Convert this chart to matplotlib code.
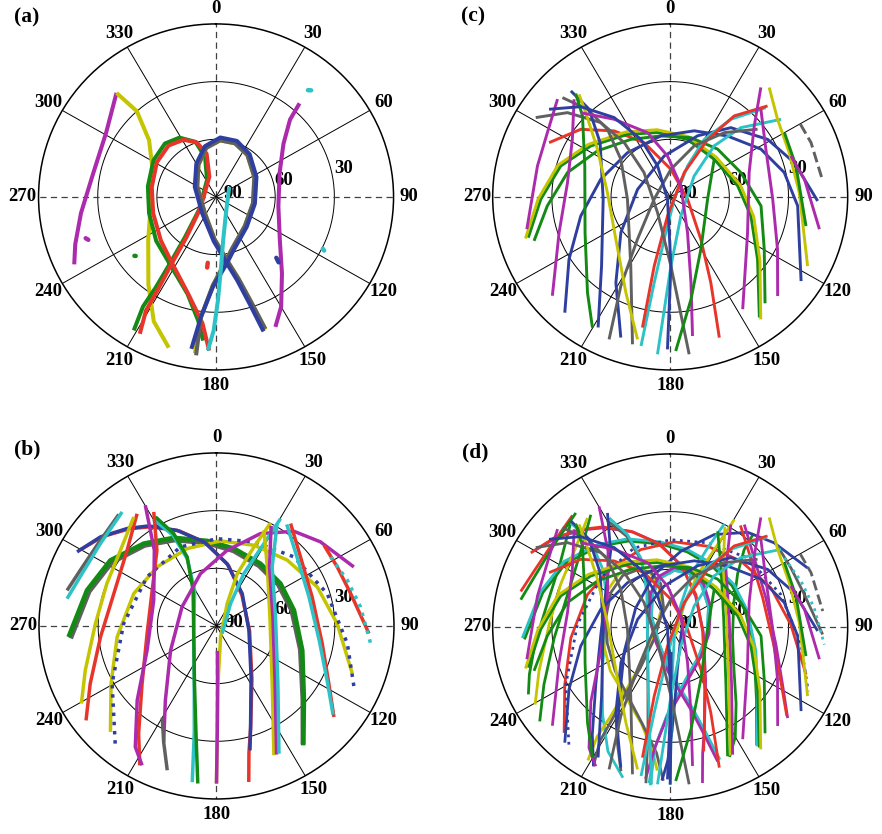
import numpy as np
import matplotlib
matplotlib.use('Agg')
import matplotlib.pyplot as plt

BL = '#2f3f9f'; RD = '#e8352a'; GR = '#138a13'; MG = '#ac2aac'
YL = '#c4c400'; CY = '#2cc2c6'; GY = '#606060'

az_ticks = list(range(0, 360, 30))
el_labels = ['30', '60', '90']
panel_names = ['(a)', '(b)', '(c)', '(d)']

# ---------------- panel (a) tracks: (azimuth deg, elevation deg) ----------------
a_mag_l = ([317, 301, 281, 263, 251, 244], [16, 25, 26.5, 21, 14.5, 10])
a_yel = ([317, 318, 311, 296, 267, 237, 217, 206, 197], [16, 30, 45, 54, 57, 49, 33, 18, 8])
a_grn = ([211, 213, 213, 214, 217, 232, 333, 345, 340, 329, 317, 301, 279, 256, 233, 214, 196, 188, 185],
         [9, 22, 34, 48, 64, 79, 80, 68.5, 59.5, 54, 52, 53, 55, 55, 52, 48, 37.5, 25, 15])
a_red = ([208.5, 211, 211.5, 213, 215.5, 233, 342, 348, 341, 331, 318, 301, 279, 255, 231, 213, 196, 186, 182.5],
         [9, 21, 34, 49, 64, 80, 79, 67, 60, 56, 54, 55, 57, 57, 54, 49, 38, 24, 10])
a_yel2 = ([160, 162, 165, 170, 182, 215, 300, 332, 349, 4, 19, 36, 62, 100, 136, 163, 172, 182, 187, 187.5],
          [16.5, 32.5, 46, 56, 68, 80, 79, 71, 64, 60.5, 60.5, 63, 68, 71, 69, 62, 56, 44, 27, 8])
a_gry = ([160, 162, 165, 170, 182, 215, 300, 332, 349, 4, 19, 36, 62, 100, 136, 163, 172, 182, 187, 187],
         [17, 33, 46, 56, 68, 80, 79, 71, 64, 60.5, 60.5, 63, 68, 71, 69, 62, 56, 44, 27, 7])
a_blu = ([161, 163, 166, 171, 183, 220, 296, 330, 348, 4, 20, 37.5, 63, 100, 135, 162, 171, 182, 187, 189],
         [16, 32, 45, 55, 67, 79, 78, 70, 63, 59, 59, 62, 67, 70, 68, 61, 55, 43, 27, 10])
a_cyn = ([52, 150, 171, 176, 179, 181, 183], [81.5, 80, 67, 53.5, 36, 20.5, 10])
a_mag_r = ([41, 43, 51, 69, 99, 125, 140, 150, 156], [25.5, 35, 46, 55.5, 58, 50.5, 38, 24, 16])
# short marks / dots in (a)
a_mag_dot = ([251, 252], [21.5, 20.5])
a_cyn_dot1 = ([40, 41], [17.5, 16.5])
a_cyn_dot2 = ([116.5, 117], [29.5, 28.5])
a_blu_mark = ([136, 137], [46, 43.5])
a_red_mark = ([187, 187], [55.5, 53])
a_grn_dot = ([233, 233.5], [39, 38.5])

# ---------------- panel (b) tracks ----------------
b_grn1 = ([265.6, 285.8, 302.4, 319.3, 334.7, 353.8, 12.4, 34.6, 55.8, 78.2, 106.3, 131.1, 144.7],
          [14.8, 21.8, 26.3, 33.5, 39.3, 45.5, 48.8, 50.7, 50.8, 49.9, 44.7, 31.2, 13.9])
b_gry1 = ([265, 285.5, 302, 319, 334.5, 353.5, 12.5, 34.5, 55.5, 78, 106, 131, 144.5],
          [15.8, 23, 27.5, 34.5, 40.5, 46.5, 50, 52, 52, 51, 45.8, 32, 14.5])
b_yel1 = ([224.3, 240.7, 263.5, 291.9, 315.5, 339.7, 2.7, 24.4, 46.3, 68.4, 88.9, 109.8],
          [13, 28.7, 39.3, 44.8, 47, 47.1, 45.7, 43.9, 40.4, 35, 28.8, 16.8])
b_blu_dot = ([220, 240.5, 271.4, 305.9, 336, 0.5, 23.5, 47.5, 73.3, 97.9, 115.6],
             [10.1, 29.2, 42.9, 46.5, 45, 44.6, 42.3, 36.8, 31.4, 23, 12.4])
b_red1 = ([300, 309, 319, 327, 339, 353, 11, 39, 99, 147, 162, 166, 168.6],
          [10.5, 16, 23, 28.5, 37, 46.5, 58, 69.5, 73, 57, 34, 22, 7.2])
b_blu1 = ([298.6, 308.2, 318.2, 326.5, 338.1, 351.7, 9.5, 37.8, 97.8, 146.5, 161.8, 165.3],
          [9.5, 15.1, 22, 27.6, 36.4, 45.8, 57.2, 68.7, 73.4, 58.2, 34.7, 23.1])
b_cyn1 = ([330, 335, 337, 329, 255, 201, 191.5, 188.6], [26, 38, 52, 68.5, 78, 58.5, 33.5, 7.8])
b_grn2 = ([331.4, 335.7, 337.5, 327.4, 251, 200.4, 190.5, 186.6], [25.4, 37.3, 51.1, 68, 77.8, 58, 33, 7.5])
b_red2 = ([331.8, 322.5, 299.6, 263.6, 231.5, 215.2, 208.2], [22.7, 40.4, 52.5, 54.6, 41.8, 21.5, 7.7])
b_mag1 = ([330.1, 321.3, 292.7, 250.2, 226.1, 213.2, 207.5], [17.6, 39.6, 55.5, 52.6, 34.2, 14.8, 8.3])
b_red3 = ([325.4, 310.9, 287.9, 264.4, 244.9, 233.4], [19.1, 30, 35.3, 30.9, 19.3, 7.6])
b_yel2 = ([323.5, 308.9, 291.7, 271.1, 250.9, 239.5], [19.5, 27.4, 30.2, 28.6, 19.6, 10.5])
b_gry2 = ([283.7, 292.8, 304.7, 319.5], [12, 15.1, 16.3, 13.7])
b_cyn2 = ([280.6, 291.8, 306, 321.1], [12.9, 16.6, 17.2, 13.8])
b_mag2 = ([203.9, 213.8, 241.4, 299.6, 343.4, 7.8, 24.9, 38.6, 50.3, 66.2],
          [23.9, 43.4, 63.5, 69.9, 61.6, 50.3, 37, 27, 21.5, 13.9])
b_gry3 = ([198.4, 203.9, 210], [10.9, 23.9, 35])
b_yel3 = ([27.1, 24.8, 21.2, 25, 160, 178.6, 179.6, 180], [29.8, 44.7, 60.8, 77.2, 83.9, 60, 34, 8])
b_mag3 = ([178, 179, 179.6, 180], [77, 60, 34, 8])
b_cyn3 = ([30.2, 29.3, 27, 31.5, 144], [25.4, 40.9, 59.5, 76.4, 85.1])
b_yel4 = ([25.8, 40, 80.2, 136.7, 156.6], [34.7, 49.9, 62.5, 48.8, 16.7])
b_mag4 = ([28, 41, 80.5, 135, 155.5], [31, 49, 61, 48, 16.5])
b_cyn4 = ([30, 42.6, 81.1, 133.9, 154.5], [28.5, 48.3, 59.7, 46.8, 16.4])
b_red4 = ([35.2, 49.9, 72.7, 99.7, 117.8, 128.5], [24.8, 34.3, 39.2, 35.6, 25.6, 13.9])
b_cyn5 = ([34, 49, 72, 99, 117, 128], [26.3, 35.8, 40.7, 37.1, 27, 15])
b_red5 = ([52.4, 63.4, 76.1, 92.9], [21.2, 21.5, 19.9, 12.6])
b_cyn6 = ([58.2, 70.3, 82.3, 96.7], [21.9, 19.5, 16.3, 11.3])

# ---------------- panel (c) tracks ----------------
c_redA = ([294.7, 307.8, 320.4, 334.9, 1.4, 97.6, 144.8, 155.2, 161.2], [22.4, 32.6, 45.4, 58.8, 75.6, 81.1, 63, 40.9, 12.7])
c_grnB = ([253.6, 269, 286.2, 303.4, 326.4, 349.2, 16.4, 48.7, 80.4, 103.6, 126.2, 144.2],
          [15, 24.4, 32.2, 41.8, 50.9, 55.9, 58.8, 60.3, 55.3, 47.9, 35.1, 12.7])
c_yelB = ([253.6, 269, 286.2, 303.4, 326.4, 349.2, 16.4, 48.7, 80.4, 103.6, 126.2, 144.2],
          [13.5, 23, 30.7, 40.3, 49.4, 54.4, 57.3, 58.8, 53.8, 46.4, 33.6, 11.5])
c_grnC = ([251.7, 265.7, 283.7, 303, 326.3, 351.5, 18.8, 44, 70.5, 95.8, 119.7, 139],
          [17.3, 27.5, 36.4, 46, 54, 57.9, 57.4, 55.4, 52, 43.7, 35.1, 16.7])
c_bluD = ([221.6, 237.7, 257.7, 284.6, 316.7, 351.5, 19.5, 42.5, 61.6, 77.6, 94.1, 123.4],
          [9.5, 29.3, 43.6, 53.6, 58.4, 57.9, 53.5, 47, 37.7, 30.8, 25.2, 10.5])
c_bluE = ([198.9, 211.7, 233.5, 283.4, 351.8, 23.6, 40.5, 58.8, 74.2, 91.6],
          [12.7, 37.6, 58.9, 73, 68.5, 55.3, 42.6, 32.2, 24.6, 15.2])
c_cynF = ([46.2, 37.3, 30, 28.7, 119, 187.9, 190.3, 190.8], [22.9, 39.2, 55.4, 71.6, 87.6, 67.8, 44.7, 11.1])
c_cynG = ([54.3, 44.8, 40, 48.1, 151.4, 179.4, 184.5], [20.8, 39.2, 55.3, 73.7, 78.7, 54.1, 7.9])
c_redH = ([46.2, 37.6, 32.4, 29.3, 187.8, 192.7, 191.7], [21.6, 36.8, 54.5, 75.4, 80, 53.2, 20.6])
c_gryI = ([51.5, 39.4, 24.6, 1.4, 262, 217, 208.4, 202.7], [33.4, 46.7, 60.8, 75.6, 81.8, 62.4, 37.4, 9.7])
c_gryDash = ([60.2, 68.4, 83.9], [13.9, 13.2, 12.2])
c_gryJ = ([301.2, 310.1, 317.7, 320.5, 313.8, 218, 179.4, 173.3], [10.3, 21.9, 37.7, 53.4, 71.6, 79.6, 54.1, 7.6])
c_gryK = ([313.4, 317.4, 317.9, 308.1, 266.9, 209.1, 194], [14.8, 28, 42.6, 58.2, 68.3, 48.9, 11])
c_bluL = ([317.6, 318, 308.5, 268, 224.1, 208.3], [15.3, 28.5, 44.6, 56, 40, 12.9])
c_grnM = ([318.3, 313.5, 290.4, 246.7, 220.1, 210.1], [18, 28.7, 43.8, 43, 24.9, 11.4])
c_yelM = ([319.1, 315.7, 304, 274, 231.3, 204.3, 192.6], [19.4, 28.7, 45.5, 58.1, 54.7, 35.4, 14.1])
c_magN = ([311.7, 298.3, 283.5, 257], [13.5, 19.3, 20.8, 15.4])
c_magO = ([316.2, 301.2, 278.2, 251.8, 229.3], [19.6, 32, 37.4, 30.7, 11.2])
c_magP = ([314, 324.9, 341, 356.4, 43, 154.6, 166.7, 171.1], [26.9, 40.6, 54.6, 68.7, 82.1, 69.5, 44.2, 16.8])
c_bluQ = ([306.6, 316, 325.5, 333.6, 338.4, 229, 179.4, 181], [13.5, 24.7, 39.9, 56.5, 72.6, 88.2, 54.1, 10.7])
c_magR = ([38.9, 49.1, 72.4, 115.3, 147.8], [16.8, 33.6, 48, 46.6, 21])
c_yelS = ([41.4, 53.4, 69.1, 88, 117.3], [14.1, 22.2, 25.4, 24.5, 11.6])
c_grnT = ([60, 75.8, 102.4], [23.1, 24.2, 19.5])
c_magU = ([70.8, 82.3, 102.5], [25.2, 21.3, 12.5])
c_magV = ([45.2, 62.9, 91.3, 116.5, 133.4], [25.2, 35.5, 38, 29.2, 15])
c_grnW = ([48.7, 93.5, 150.2, 168.8, 178], [60.3, 71, 58.7, 35.7, 9.8])

# (track, colour, style, width factor)
a_tracks = [(a_mag_l, MG, '-', 1), (a_yel, YL, '-', 1), (a_grn, GR, '-', 1), (a_red, RD, '-', 1),
            (a_yel2, YL, '-', 1), (a_gry, GY, '-', 1), (a_blu, BL, '-', 1), (a_cyn, CY, '-', 1),
            (a_mag_r, MG, '-', 1)]
a_marks = [(a_mag_dot, MG), (a_cyn_dot1, CY), (a_cyn_dot2, CY), (a_blu_mark, BL),
           (a_red_mark, RD), (a_grn_dot, GR)]
b_tracks = [(b_gry1, GY, '-', 1.35), (b_grn1, GR, '-', 1.35), (b_yel1, YL, '-', 1), (b_blu_dot, BL, ':', 1),
            (b_red1, RD, '-', 1), (b_blu1, BL, '-', 1), (b_cyn1, CY, '-', 1), (b_grn2, GR, '-', 1),
            (b_red2, RD, '-', 1), (b_mag1, MG, '-', 1), (b_red3, RD, '-', 1), (b_yel2, YL, '-', 1),
            (b_gry2, GY, '-', 1), (b_cyn2, CY, '-', 1), (b_mag2, MG, '-', 1), (b_gry3, GY, '-', 1),
            (b_yel3, YL, '-', 1), (b_mag3, MG, '-', 1), (b_cyn3, CY, '-', 1), (b_yel4, YL, '-', 1),
            (b_mag4, MG, '-', 1), (b_cyn4, CY, '-', 1), (b_red4, RD, '-', 1), (b_cyn5, CY, '-', 1),
            (b_red5, RD, '-', 1), (b_cyn6, CY, ':', 1)]
c_tracks = [(c_redA, RD, '-', 1), (c_grnB, GR, '-', 1), (c_yelB, YL, '-', 1), (c_grnC, GR, '-', 1),
            (c_bluD, BL, '-', 1), (c_bluE, BL, '-', 1), (c_cynF, CY, '-', 1), (c_cynG, CY, '-', 1),
            (c_redH, RD, '-', 1), (c_gryI, GY, '-', 1), (c_gryDash, GY, '--', 1), (c_gryJ, GY, '-', 1),
            (c_gryK, GY, '-', 1), (c_bluL, BL, '-', 1), (c_grnM, GR, '-', 1), (c_yelM, YL, '-', 1),
            (c_magN, MG, '-', 1), (c_magO, MG, '-', 1), (c_magP, MG, '-', 1), (c_bluQ, BL, '-', 1),
            (c_magR, MG, '-', 1), (c_yelS, YL, '-', 1), (c_grnT, GR, '-', 1), (c_magU, MG, '-', 1),
            (c_magV, MG, '-', 1), (c_grnW, GR, '-', 1)]
# panel (d): all satellites together, colours re-assigned
d_colors_a = [GR, CY, YL, GY, CY, CY, MG, BL, GR]
d_colors_b = [GR, CY, RD, BL, MG, RD, GY, CY, BL, MG, GR, YL, RD, GR, BL, GY, CY, BL, YL, GR,
              YL, MG, MG, RD, GY, CY]
d_tracks = ([(t[0], c, t[2], 1) for t, c in zip(a_tracks, d_colors_a)] +
            [(t[0], c, t[2], 1) for t, c in zip(b_tracks, d_colors_b)] + c_tracks)

rects = [[0.0437, 0.5564, 0.4025, 0.4149], [0.0442, 0.0420, 0.4025, 0.4149],
         [0.5586, 0.5564, 0.4025, 0.4149], [0.5586, 0.0408, 0.4025, 0.4149]]
label_pos = [(27, 17), (27, 449), (473, 16), (475, 452)]
widths = [2.9, 2.5, 2.1, 2.0]

FONT = 'Liberation Serif'

fig = plt.figure(figsize=(8.82, 8.34), dpi=100)


def setup(ax):
    ax.set_theta_zero_location('N')
    ax.set_theta_direction(-1)
    ax.set_ylim(0, 90)
    ax.set_xticks([])
    ax.set_yticks([])
    ax.grid(False)
    ax.set_aspect('auto')
    ax.spines['polar'].set_linewidth(1.1)
    ax.spines['polar'].set_color('black')
    circ = np.linspace(0, 2 * np.pi, 361)
    for rr in (30, 60):
        ax.plot(circ, np.full_like(circ, rr), color='black', lw=0.7, zorder=0.5)
    for ang in az_ticks:
        if ang % 90 == 0:
            ax.plot([np.radians(ang)] * 2, [0, 90], color='#404040', lw=0.9,
                    ls=(0, (5, 3.5)), zorder=0.5)
        else:
            ax.plot([np.radians(ang)] * 2, [0, 90], color='black', lw=0.7, zorder=0.5)
        ax.text(np.radians(ang), 98, str(ang), ha='center', va='center', fontsize=13.5,
                fontweight='bold', family=FONT, clip_on=False)
    for txt, th, rr in zip(el_labels, (76.3, 74.2, 62.9), (61.6, 30.6, 4.5)):
        ax.text(np.radians(th), rr, txt, ha='left', va='center', fontsize=13.5,
                fontweight='bold', family=FONT, zorder=1)


def draw(ax, tracks, lw):
    for (az, el), col, ls, f in tracks:
        th = np.unwrap(np.radians(np.asarray(az, float)))
        ax.plot(th, 90 - np.asarray(el, float), color=col, lw=lw * f, ls=ls,
                solid_capstyle='butt', solid_joinstyle='round', zorder=2)


all_tracks = [a_tracks, b_tracks, c_tracks, d_tracks]
for i in range(4):
    ax = fig.add_axes(rects[i], projection='polar')
    setup(ax)
    draw(ax, all_tracks[i], widths[i])
    if i == 0:
        for (az, el), col in a_marks:
            ax.plot(np.radians(az), 90 - np.asarray(el, float), color=col, lw=3.2,
                    solid_capstyle='round', zorder=2)
    fig.text(label_pos[i][0] / 882, 1 - label_pos[i][1] / 834, panel_names[i],
             ha='center', va='center', fontsize=15.5, fontweight='bold', family=FONT)

fig.savefig('out.png', dpi=100)
